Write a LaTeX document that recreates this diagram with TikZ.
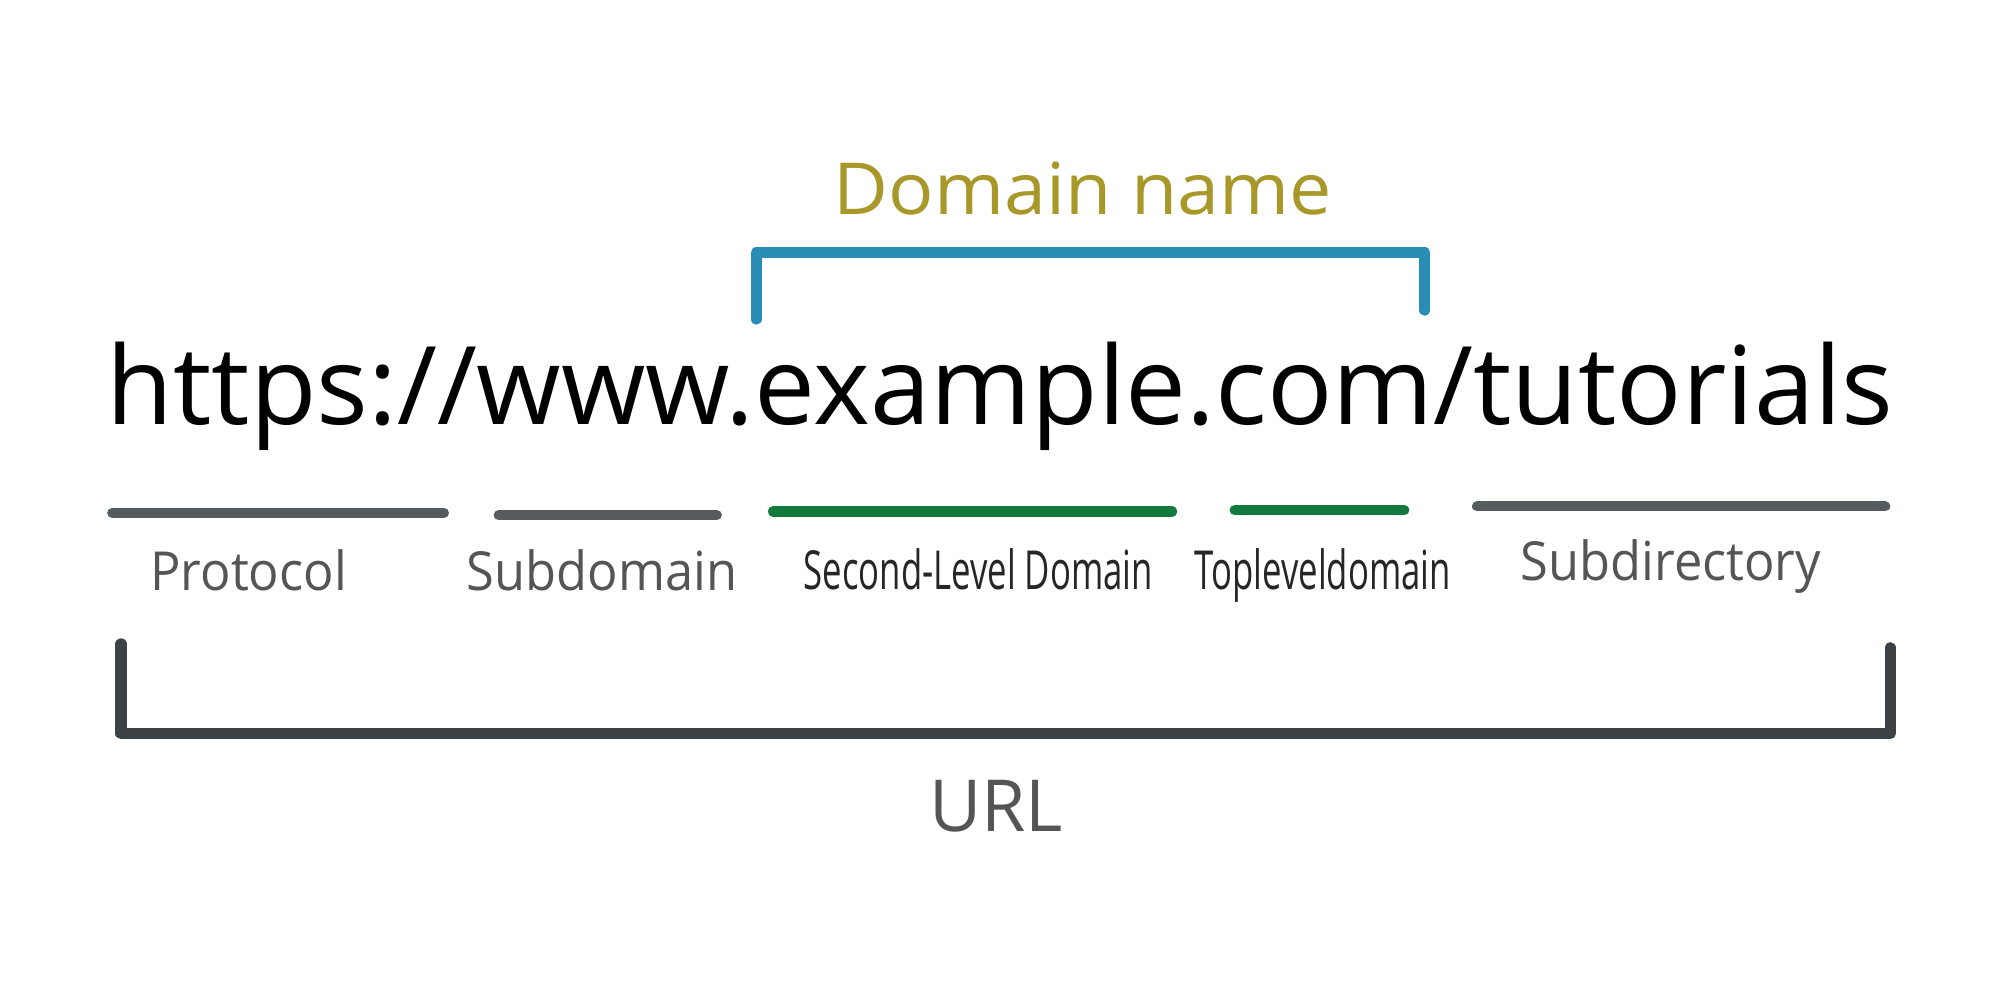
\documentclass[tikz,border=0pt]{standalone}
\usepackage{fontspec}
\setmainfont{Open Sans}
\definecolor{olive}{HTML}{A8982A}
\definecolor{bblue}{HTML}{2A8DB3}
\definecolor{lgray}{HTML}{555B5E}
\definecolor{dgreen}{HTML}{137A3E}
\definecolor{dark}{HTML}{3D4246}
\definecolor{txtgray}{HTML}{555555}
\begin{document}
\begin{tikzpicture}[x=0.01cm,y=0.01cm,
  bar/.style={line width=0.08cm,line cap=round},
  brk/.style={line width=0.09cm,line cap=round,line join=round},
  lbl/.style={anchor=base,inner sep=0pt,text=txtgray,font=\fontsize{12pt}{14pt}\selectfont,xscale=0.94},
  clbl/.style={anchor=base,inner sep=0pt,text=black!85,font=\fontsize{12pt}{14pt}\selectfont,xscale=0.645}]
\useasboundingbox (0,0) rectangle (1568,775);
% domain name
\node[anchor=base,inner sep=0pt,text=olive,font=\fontsize{16pt}{19pt}\selectfont,xscale=1.05] (dn) at (849,607) {Domain name};
\coordinate (b1) at (593,525);
\coordinate (b2) at (593,577);
\coordinate (b3) at (1117,577);
\coordinate (b4) at (1117,532);
\draw[brk,bblue] (b1) -- (b2) -- (b3) -- (b4);
% url
\node[anchor=base west,inner sep=0pt,font=\fontsize{24.2pt}{28pt}\selectfont] (url) at (83,442) {https://www.example.com/tutorials};
% underlines
\draw[bar,lgray] (88,373) coordinate (p1) -- (348,373) coordinate (p2);
\draw[bar,lgray] (391,371) coordinate (s1) -- (562,371) coordinate (s2);
\draw[bar,dgreen] (606,374) coordinate (d1) -- (919,374) coordinate (d2);
\draw[bar,dgreen] (968,375) coordinate (t1) -- (1101,375) coordinate (t2);
\draw[bar,lgray] (1158,378) coordinate (r1) -- (1478,378) coordinate (r2);
% labels
\node[lbl] (lp) at (195,312) {Protocol};
\node[lbl] (ls) at (472,312) {Subdomain};
\node[clbl] (ld) at (767,313) {Second-Level Domain};
\node[clbl] (lt) at (1037,313) {Topleveldomain};
\node[lbl] (lr) at (1310,320) {Subdirectory};
% big bracket
\coordinate (u1) at (95,270);
\coordinate (u2) at (95,200);
\coordinate (u3) at (1482,200);
\coordinate (u4) at (1482,267);
\draw[brk,dark] (u1) -- (u2) -- (u3) -- (u4);
\node[anchor=base,inner sep=0pt,text=txtgray,font=\fontsize{16pt}{19pt}\selectfont] (ul) at (781,123) {URL};
\end{tikzpicture}
\end{document}
